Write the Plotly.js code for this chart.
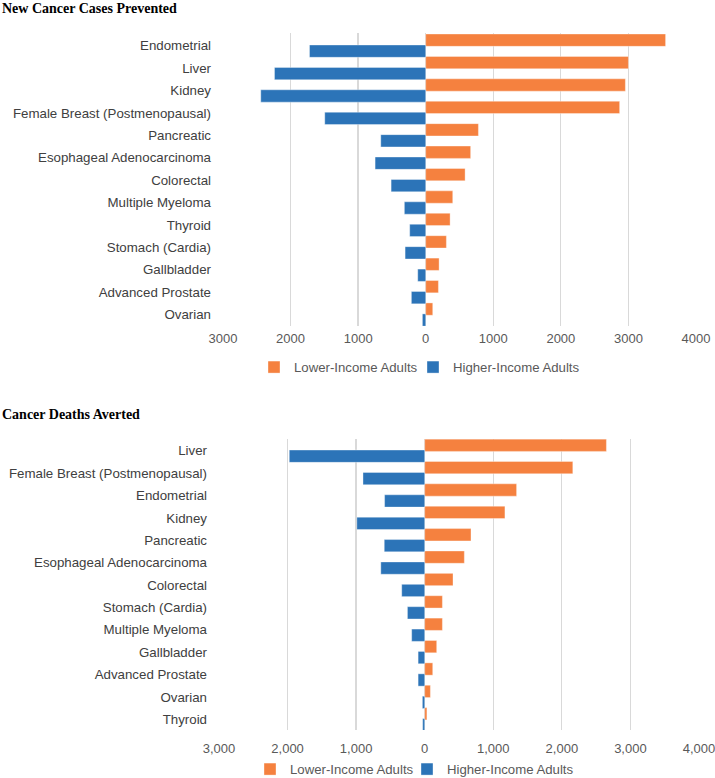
<!DOCTYPE html>
<html><head><meta charset="utf-8">
<script src="https://cdn.plot.ly/plotly-3.0.1.min.js"></script>
<style>html,body{margin:0;padding:0;background:#fff;overflow:hidden}#chart{width:715px;height:790px}</style>
</head><body><div id="chart"></div>
<script>
// ---- Data: New Cancer Cases Prevented ----
const casesCategories = ["Endometrial", "Liver", "Kidney", "Female Breast (Postmenopausal)", "Pancreatic",
  "Esophageal Adenocarcinoma", "Colorectal", "Multiple Myeloma", "Thyroid", "Stomach (Cardia)",
  "Gallbladder", "Advanced Prostate", "Ovarian"];
const casesLower = [3550, 3000, 2955, 2870, 780, 665, 583, 400, 361, 306, 198, 188, 104];
const casesHigher = [1720, 2238, 2441, 1494, 665, 749, 512, 316, 237, 305, 118, 212, 49];

// ---- Data: Cancer Deaths Averted ----
const deathsCategories = ["Liver", "Female Breast (Postmenopausal)", "Endometrial", "Kidney", "Pancreatic",
  "Esophageal Adenocarcinoma", "Colorectal", "Stomach (Cardia)", "Multiple Myeloma", "Gallbladder",
  "Advanced Prostate", "Ovarian", "Thyroid"];
const deathsLower = [2650, 2160, 1340, 1170, 675, 578, 413, 258, 258, 175, 117, 83, 32];
const deathsHigher = [1975, 900, 585, 990, 590, 640, 335, 252, 190, 96, 96, 34, 30];

// ---- Tick labels ----
const tickValues = [-3000, -2000, -1000, 0, 1000, 2000, 3000, 4000];
const casesTickText = ["3000", "2000", "1000", "0", "1000", "2000", "3000", "4000"];
const deathsTickText = ["3,000", "2,000", "1,000", "0", "1,000", "2,000", "3,000", "4,000"];

const seriesNames = ["Lower-Income Adults", "Higher-Income Adults"];
const ORANGE = "#F5813F", BLUE = "#2C74B8";
const SANS = "Liberation Sans, Arial, sans-serif";
const W = 715, H = 790;
const px = v => v / W, py = v => 1 - v / H;

function neg(a) { return a.map(v => -v); }

const barW = 0.55;
const edge = {width: 0.6, color: "rgba(255,255,255,0.6)"};
const traces = [
  {type: "bar", orientation: "h", name: seriesNames[0], y: casesCategories, x: casesLower,
   xaxis: "x", yaxis: "y", legend: "legend", width: barW, offset: -0.52,
   marker: {color: ORANGE, line: edge}},
  {type: "bar", orientation: "h", name: seriesNames[1], y: casesCategories, x: neg(casesHigher),
   xaxis: "x", yaxis: "y", legend: "legend3", width: barW, offset: -0.03,
   marker: {color: BLUE, line: edge}},
  {type: "bar", orientation: "h", name: seriesNames[0], y: deathsCategories, x: deathsLower,
   xaxis: "x2", yaxis: "y2", legend: "legend2", width: barW, offset: -0.52,
   marker: {color: ORANGE, line: edge}},
  {type: "bar", orientation: "h", name: seriesNames[1], y: deathsCategories, x: neg(deathsHigher),
   xaxis: "x2", yaxis: "y2", legend: "legend4", width: barW, offset: -0.03,
   marker: {color: BLUE, line: edge}}
];

const xCommon = {range: [-3000, 4012], tickvals: tickValues, showgrid: true, gridcolor: "#D9D9D9",
  gridwidth: 1.3, zeroline: false, showline: false, ticks: "", fixedrange: true,
  ticklabeloverflow: "allow",
  tickfont: {family: SANS, size: 13, color: "#595959"}};
const yCommon = {type: "category", showgrid: false, zeroline: false, showline: false, ticks: "",
  tickfont: {family: SANS, size: 13.3, color: "#404040"}, ticklabelstandoff: 11, fixedrange: true};

const legendCommon = {orientation: "h", xanchor: "left", yanchor: "top", itemwidth: 30,
  font: {family: SANS, size: 13.2, color: "#595959"}, bgcolor: "rgba(0,0,0,0)",
  itemclick: false};

const layout = {
  width: W, height: H, margin: {l: 0, r: 0, t: 0, b: 0},
  paper_bgcolor: "#fff", plot_bgcolor: "#fff", barmode: "overlay", showlegend: true,
  xaxis: Object.assign({}, xCommon, {domain: [px(223), px(696.8)], anchor: "y",
    ticktext: casesTickText, ticklabelstandoff: 3}),
  yaxis: Object.assign({}, yCommon, {domain: [py(326), py(33)], anchor: "x", range: [12.51, -0.565]}),
  xaxis2: Object.assign({}, xCommon, {domain: [px(219), px(699.8)], anchor: "y2",
    ticktext: deathsTickText, ticklabelstandoff: 9}),
  yaxis2: Object.assign({}, yCommon, {domain: [py(730), py(439.3)], anchor: "x2", range: [12.48, -0.51]}),
  legend: Object.assign({}, legendCommon, {x: px(254), y: py(352)}),
  legend3: Object.assign({}, legendCommon, {x: px(413), y: py(352)}),
  legend2: Object.assign({}, legendCommon, {x: px(250), y: py(754)}),
  legend4: Object.assign({}, legendCommon, {x: px(407), y: py(754)}),
  annotations: [
    {text: "<b>New Cancer Cases Prevented</b>", xref: "paper", yref: "paper", x: 0, y: 1,
     xanchor: "left", yanchor: "top", yshift: 1, showarrow: false,
     font: {family: "Liberation Serif, Times New Roman, serif", size: 14, color: "#000"}},
    {text: "<b>Cancer Deaths Averted</b>", xref: "paper", yref: "paper", x: 0, y: py(414),
     xanchor: "left", yanchor: "middle", showarrow: false,
     font: {family: "Liberation Serif, Times New Roman, serif", size: 14, color: "#000"}}
  ]
};

Plotly.newPlot("chart", traces, layout, {staticPlot: true, displayModeBar: false});
</script></body></html>
